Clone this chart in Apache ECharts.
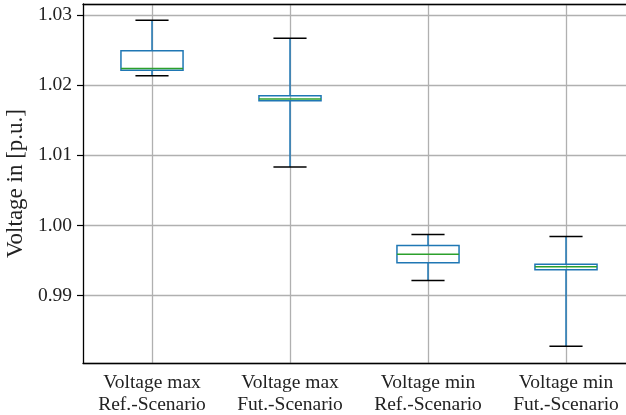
<!DOCTYPE html>
<html>
<head>
<meta charset="utf-8">
<script src="https://cdn.jsdelivr.net/npm/echarts@6/dist/echarts.min.js"></script>
<style>
  html, body { margin: 0; padding: 0; background: #fff; }
  #chart { width: 626px; height: 415px; }
</style>
</head>
<body>
<div id="chart"></div>
<script>
// 数据
const categories = ['Voltage max\nRef.-Scenario', 'Voltage max\nFut.-Scenario', 'Voltage min\nRef.-Scenario', 'Voltage min\nFut.-Scenario'];
const whiskerLow = [1.02133, 1.00833, 0.99214, 0.98277];
const q1 = [1.02214, 1.01776, 0.99467, 0.99367];
const median = [1.02238, 1.01804, 0.99590, 0.99410];
const q3 = [1.02490, 1.01847, 0.99714, 0.99447];
const whiskerHigh = [1.02924, 1.02667, 0.99871, 0.99843];

const rows = categories.map((c, i) => [i, whiskerLow[i], q1[i], median[i], q3[i], whiskerHigh[i]]);

const font = 'Liberation Serif';
const myChart = echarts.init(document.getElementById('chart'));

function renderBox(params, api) {
  const i = api.value(0);
  const band = api.size([1, 0])[0];
  const boxW = band * 0.45;
  const capW = band * 0.24;
  const pLow = api.coord([i, api.value(1)]);
  const pQ1 = api.coord([i, api.value(2)]);
  const pMed = api.coord([i, api.value(3)]);
  const pQ3 = api.coord([i, api.value(4)]);
  const pHigh = api.coord([i, api.value(5)]);
  const x = pQ1[0];
  const blue = {stroke: '#1f77b4', lineWidth: 1.5, fill: null};
  return {
    type: 'group',
    children: [
      // 须线
      {type: 'line', shape: {x1: x, y1: pQ3[1], x2: x, y2: pHigh[1]}, style: blue},
      {type: 'line', shape: {x1: x, y1: pQ1[1], x2: x, y2: pLow[1]}, style: blue},
      // 箱体
      {type: 'rect', shape: {x: x - boxW / 2, y: pQ3[1], width: boxW, height: pQ1[1] - pQ3[1]}, style: blue},
      // 中位数
      {type: 'line', shape: {x1: x - boxW / 2, y1: pMed[1], x2: x + boxW / 2, y2: pMed[1]}, style: {stroke: '#2ca02c', lineWidth: 1.5}},
      // caps
      {type: 'line', shape: {x1: x - capW / 2, y1: pHigh[1], x2: x + capW / 2, y2: pHigh[1]}, style: {stroke: '#000', lineWidth: 1.5}},
      {type: 'line', shape: {x1: x - capW / 2, y1: pLow[1], x2: x + capW / 2, y2: pLow[1]}, style: {stroke: '#000', lineWidth: 1.5}}
    ]
  };
}

myChart.setOption({
  animation: false,
  grid: {left: 83, top: 4, width: 552, height: 359, outerBoundsMode: 'none', containLabel: false},
  xAxis: [
    {
      type: 'category',
      data: categories,
      axisLine: {lineStyle: {color: '#000', width: 1.3}},
      axisTick: {alignWithLabel: true, interval: 0, length: 5, lineStyle: {color: '#000', width: 1.2}},
      axisLabel: {interval: 0, hideOverlap: false, color: '#222', fontFamily: font, fontSize: 19.5, lineHeight: 22, margin: 9},
      splitLine: {show: true, interval: 0, alignWithLabel: true, lineStyle: {color: '#b0b0b0', width: 1.3}}
    },
    {
      type: 'category',
      data: categories,
      position: 'top',
      axisLine: {lineStyle: {color: '#000', width: 1.3}},
      axisTick: {show: false},
      axisLabel: {show: false},
      splitLine: {show: false}
    }
  ],
  yAxis: {
    type: 'value',
    min: 0.98038,
    max: 1.03157,
    splitNumber: 5,
    name: 'Voltage in [p.u.]',
    nameLocation: 'middle',
    nameGap: 53,
    nameTextStyle: {color: '#222', fontFamily: font, fontSize: 23},
    axisLine: {show: true, lineStyle: {color: '#000', width: 1.3}},
    axisTick: {show: true, length: 6, lineStyle: {color: '#000', width: 1.2}},
    axisLabel: {
      color: '#222', fontFamily: font, fontSize: 19.5, margin: 11,
      showMinLabel: false, showMaxLabel: false,
      formatter: v => v.toFixed(2)
    },
    splitLine: {show: true, lineStyle: {color: '#b0b0b0', width: 1.3}}
  },
  series: [{
    type: 'custom',
    renderItem: renderBox,
    encode: {x: 0, y: [1, 2, 3, 4, 5]},
    data: rows,
    clip: false
  }]
});
</script>
</body>
</html>
